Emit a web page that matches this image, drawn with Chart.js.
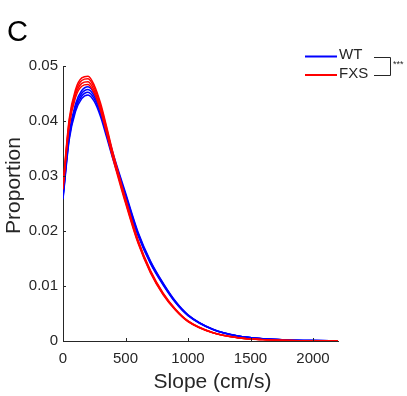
<!DOCTYPE html>
<html>
<head>
<meta charset="utf-8">
<script src="https://cdn.jsdelivr.net/npm/chart.js@4.4.1/dist/chart.umd.min.js"></script>
<style>
  body { margin: 0; background: #fff; }
  #wrap { width: 407px; height: 396px; }
</style>
</head>
<body>
<div id="wrap"><canvas id="slopechart" width="407" height="396"></canvas></div>
<script>
const slopes = [0, 50, 100, 150, 200, 250, 300, 350, 400, 450, 500, 600, 700, 800, 900, 1000, 1200, 1400, 1600, 1800, 2000, 2200];

// WT curves (blue), lowest to highest peak
const wtLine1 = [0.02577, 0.03659, 0.04170, 0.04406, 0.04475, 0.04357, 0.04082, 0.03698, 0.03305, 0.02951, 0.02606, 0.01918, 0.01406, 0.01023, 0.00698, 0.00462, 0.00207, 0.00089, 0.00039, 0.00018, 0.00008, 0.00003];
const wtLine2 = [0.02606, 0.03700, 0.04217, 0.04455, 0.04525, 0.04406, 0.04127, 0.03739, 0.03342, 0.02984, 0.02635, 0.01939, 0.01422, 0.01034, 0.00706, 0.00467, 0.00209, 0.00090, 0.00040, 0.00018, 0.00008, 0.00003];
const wtLine3 = [0.02634, 0.03741, 0.04263, 0.04505, 0.04575, 0.04454, 0.04173, 0.03781, 0.03379, 0.03017, 0.02665, 0.01961, 0.01438, 0.01046, 0.00714, 0.00473, 0.00211, 0.00091, 0.00040, 0.00018, 0.00008, 0.00003];
const wtLine4 = [0.02663, 0.03781, 0.04310, 0.04554, 0.04625, 0.04503, 0.04219, 0.03822, 0.03415, 0.03050, 0.02694, 0.01982, 0.01454, 0.01057, 0.00722, 0.00478, 0.00214, 0.00092, 0.00041, 0.00018, 0.00008, 0.00003];

// FXS curves (red), lowest to highest peak
const fxsLine1 = [0.02754, 0.03914, 0.04426, 0.04632, 0.04662, 0.04504, 0.04190, 0.03767, 0.03314, 0.02901, 0.02508, 0.01780, 0.01239, 0.00846, 0.00561, 0.00354, 0.00148, 0.00059, 0.00025, 0.00010, 0.00004, 0.00002];
const fxsLine2 = [0.02785, 0.03958, 0.04475, 0.04684, 0.04714, 0.04555, 0.04237, 0.03809, 0.03352, 0.02934, 0.02536, 0.01800, 0.01253, 0.00855, 0.00567, 0.00358, 0.00149, 0.00060, 0.00025, 0.00010, 0.00004, 0.00002];
const fxsLine3 = [0.02815, 0.04002, 0.04525, 0.04736, 0.04766, 0.04605, 0.04283, 0.03851, 0.03389, 0.02966, 0.02564, 0.01820, 0.01267, 0.00865, 0.00573, 0.00362, 0.00151, 0.00060, 0.00025, 0.00010, 0.00004, 0.00002];
const fxsLine4 = [0.02843, 0.04042, 0.04570, 0.04783, 0.04814, 0.04651, 0.04326, 0.03889, 0.03422, 0.02996, 0.02590, 0.01838, 0.01280, 0.00873, 0.00579, 0.00366, 0.00152, 0.00061, 0.00025, 0.00010, 0.00004, 0.00002];

const xTicks = [0, 500, 1000, 1500, 2000];
const xTickLabels = ['0', '500', '1000', '1500', '2000'];
const yTicks = [0, 0.01, 0.02, 0.03, 0.04, 0.05];
const yTickLabels = ['0', '0.01', '0.02', '0.03', '0.04', '0.05'];

const axisColor = '#262626';
const fontFamily = '"Liberation Sans", Arial, sans-serif';

Chart.defaults.font.family = fontFamily;
Chart.defaults.color = axisColor;

function toPoints(ys) {
    return slopes.map(function(x, i){ return {x: x, y: ys[i]}; });
}

function lineSet(ys, colour, order) {
    return {
        data: toPoints(ys),
        borderColor: colour,
        borderWidth: 1.5,
        pointRadius: 0,
        fill: false,
        cubicInterpolationMode: 'monotone',
        order: order
    };
}

function labelFor(ticks, labels, value) {
    const i = ticks.findIndex(function(t){ return Math.abs(t - value) < 1e-9; });
    return i >= 0 ? labels[i] : '';
}

// inward ticks, panel letter, legend, bracket and axis titles (MATLAB look)
const decorations = {
    id: 'decorations',
    afterDraw(chart) {
        const ctx = chart.ctx;
        const xs = chart.scales.x;
        const ys = chart.scales.y;
        const area = chart.chartArea;
        ctx.save();
        ctx.strokeStyle = axisColor;
        ctx.lineWidth = 1;
        ctx.beginPath();
        xTicks.forEach(function(v){
            const px = Math.round(xs.getPixelForValue(v)) + 0.5;
            ctx.moveTo(px, area.bottom);
            ctx.lineTo(px, area.bottom - 3);
        });
        yTicks.forEach(function(v){
            const py = Math.round(ys.getPixelForValue(v)) + 0.5;
            ctx.moveTo(area.left, py);
            ctx.lineTo(area.left + 3, py);
        });
        ctx.stroke();

        ctx.fillStyle = '#000';
        ctx.font = '29px ' + fontFamily;
        ctx.textAlign = 'left';
        ctx.textBaseline = 'alphabetic';
        ctx.fillText('C', 7, 41);

        // legend
        ctx.lineWidth = 2;
        ctx.strokeStyle = '#0000ff';
        ctx.beginPath(); ctx.moveTo(305, 56.5); ctx.lineTo(337, 56.5); ctx.stroke();
        ctx.strokeStyle = '#ff0000';
        ctx.beginPath(); ctx.moveTo(305, 75); ctx.lineTo(337, 75); ctx.stroke();
        ctx.fillStyle = axisColor;
        ctx.font = '15px ' + fontFamily;
        ctx.textBaseline = 'middle';
        ctx.fillText('WT', 339, 55);
        ctx.fillText('FXS', 339, 73.5);

        ctx.lineWidth = 1;
        ctx.strokeStyle = axisColor;
        ctx.beginPath();
        ctx.moveTo(374, 57.5); ctx.lineTo(390.5, 57.5);
        ctx.lineTo(390.5, 75.5); ctx.lineTo(374, 75.5);
        ctx.stroke();
        ctx.font = '9px ' + fontFamily;
        ctx.fillText('***', 393, 65);

        // axis titles
        ctx.font = '21px ' + fontFamily;
        ctx.textAlign = 'center';
        ctx.textBaseline = 'alphabetic';
        ctx.fillText('Slope (cm/s)', 212.5, 388);
        ctx.translate(19.5, 185.5);
        ctx.rotate(-Math.PI / 2);
        ctx.fillText('Proportion', 0, 0);
        ctx.restore();
    }
};

window.onload = function(){
    const ctx = document.getElementById('slopechart').getContext('2d');
    new Chart(ctx, {
        type: 'line',
        data: {
            datasets: [
                lineSet(wtLine1, '#0000ff', 1),
                lineSet(wtLine2, '#0000ff', 1),
                lineSet(wtLine3, '#0000ff', 1),
                lineSet(wtLine4, '#0000ff', 1),
                lineSet(fxsLine1, '#ff0000', 0),
                lineSet(fxsLine2, '#ff0000', 0),
                lineSet(fxsLine3, '#ff0000', 0),
                lineSet(fxsLine4, '#ff0000', 0)
            ]
        },
        options: {
            responsive: false,
            animation: false,
            events: [],
            layout: { padding: { left: 0, top: 66, right: 69, bottom: 0 } },
            plugins: { legend: { display: false }, tooltip: { enabled: false } },
            scales: {
                x: {
                    type: 'linear',
                    min: 0,
                    max: 2200,
                    afterBuildTicks: function(scale){ scale.ticks = xTicks.map(function(v){ return {value: v}; }); },
                    afterFit: function(scale){ scale.height = 55; },
                    grid: { display: false, drawTicks: false },
                    border: { display: true, color: axisColor, width: 1 },
                    ticks: {
                        padding: 9,
                        maxRotation: 0,
                        autoSkip: false,
                        font: { size: 15 },
                        color: axisColor,
                        callback: function(value){ return labelFor(xTicks, xTickLabels, value); }
                    }
                },
                y: {
                    min: 0,
                    max: 0.05,
                    afterBuildTicks: function(scale){ scale.ticks = yTicks.map(function(v){ return {value: v}; }); },
                    afterFit: function(scale){ scale.width = 63; },
                    grid: { display: false, drawTicks: false },
                    border: { display: true, color: axisColor, width: 1 },
                    ticks: {
                        padding: 5,
                        font: { size: 15 },
                        color: axisColor,
                        callback: function(value){ return labelFor(yTicks, yTickLabels, value); }
                    }
                }
            }
        },
        plugins: [decorations]
    });
};
</script>
</body>
</html>
